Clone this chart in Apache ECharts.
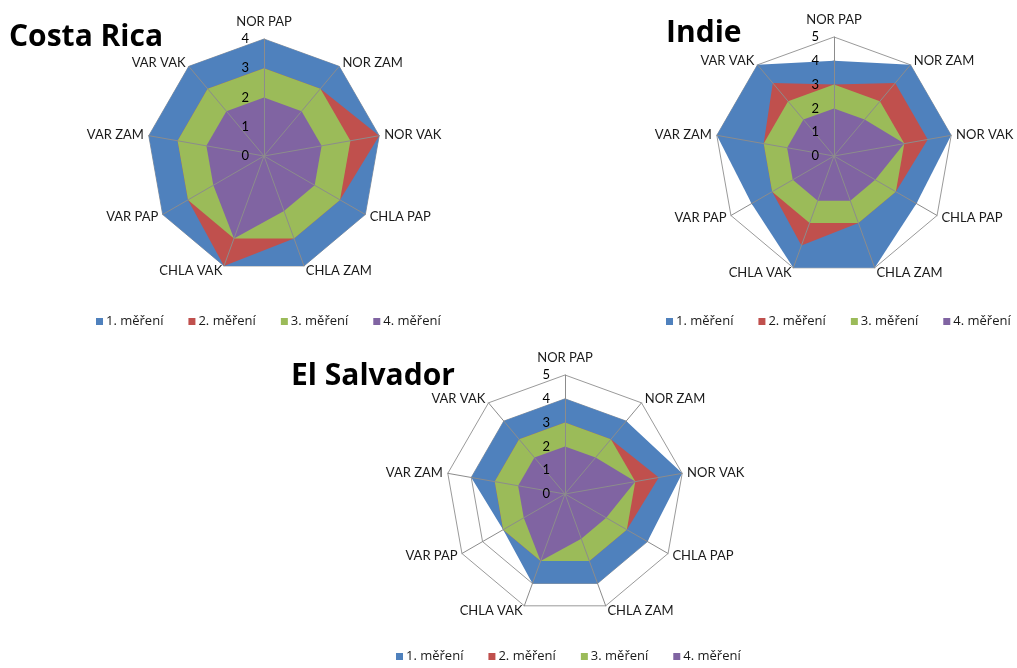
<!DOCTYPE html>
<html>
<head>
<meta charset="utf-8">
<script src="https://cdn.jsdelivr.net/npm/echarts@6/dist/echarts.min.js"></script>
<style>
  html, body { margin: 0; padding: 0; background: #fff; }
  #chart { width: 1017px; height: 668px; }
</style>
</head>
<body>
<div id="chart"></div>
<script>
// Radar axes, listed clockwise from the top
const axes = ['NOR PAP', 'NOR ZAM', 'NOR VAK', 'CHLA PAP', 'CHLA ZAM', 'CHLA VAK', 'VAR PAP', 'VAR ZAM', 'VAR VAK'];
const measurements = ['1. měření', '2. měření', '3. měření', '4. měření'];

// Costa Rica
const costaRica1 = [4, 4, 4, 4, 4, 4, 4, 4, 4];
const costaRica2 = [3, 3, 4, 3, 3, 4, 3, 3, 3];
const costaRica3 = [3, 3, 3, 3, 3, 3, 3, 3, 3];
const costaRica4 = [2, 2, 2, 2, 2, 3, 2, 2, 2];

// Indie
const indie1 = [4, 5, 5, 4, 5, 5, 4, 5, 5];
const indie2 = [3, 4, 4, 3, 3, 4, 3, 3, 4];
const indie3 = [3, 3, 3, 3, 3, 3, 3, 3, 3];
const indie4 = [2, 2, 3, 2, 2, 2, 2, 2, 2];

// El Salvador
const salvador1 = [4, 4, 5, 4, 4, 4, 3, 4, 4];
const salvador2 = [3, 3, 4, 3, 3, 3, 3, 3, 3];
const salvador3 = [3, 3, 3, 3, 3, 3, 3, 3, 3];
const salvador4 = [2, 2, 3, 2, 2, 3, 2, 2, 2];

const axisMax = { costaRica: 4, indie: 5, salvador: 5 };

const colors = ['#4F81BD', '#C0504D', '#9BBB59', '#8064A2'];
const FONT = 'Lato, "Open Sans", sans-serif';
const TITLE_FONT = '"Open Sans", Lato, sans-serif';

// ECharts lays radar indicators out counter-clockwise; reorder so the axes run clockwise.
const order = [0].concat(axes.map(function (_, i) { return i; }).slice(1).reverse());
function clockwise(arr) { return order.map(function (i) { return arr[i]; }); }

const panels = [
  { title: 'Costa Rica', max: axisMax.costaRica, sets: [costaRica1, costaRica2, costaRica3, costaRica4],
    center: [264, 156], radius: 117, titlePos: { left: 9, top: 22 }, legendPos: { left: 96, top: 315 } },
  { title: 'Indie', max: axisMax.indie, sets: [indie1, indie2, indie3, indie4],
    center: [834, 156], radius: 119, titlePos: { left: 666, top: 18 }, legendPos: { left: 666, top: 315 } },
  { title: 'El Salvador', max: axisMax.salvador, sets: [salvador1, salvador2, salvador3, salvador4],
    center: [565, 494], radius: 119, titlePos: { left: 291, top: 361 }, legendPos: { left: 396, top: 650 } }
];

const option = {
  animation: false,
  backgroundColor: '#fff',
  title: [],
  legend: [],
  radar: [],
  series: []
};

panels.forEach(function (p, pi) {
  option.title.push({
    text: p.title, left: p.titlePos.left, top: p.titlePos.top, padding: 0,
    textStyle: { fontFamily: TITLE_FONT, fontWeight: 'bold', fontSize: 30, color: '#000' }
  });

  option.legend.push({
    left: p.legendPos.left, top: p.legendPos.top, width: 400, padding: 0,
    icon: 'rect', itemWidth: 7, itemHeight: 7, itemGap: 25,
    data: measurements,
    selectedMode: false,
    textStyle: { fontFamily: TITLE_FONT, fontSize: 13, color: '#1a1a1a', padding: [0, 0, 0, -2] }
  });

  const names = clockwise(axes);

  // background radar: concentric grid and axis names
  option.radar.push({
    center: p.center, radius: p.radius, startAngle: 90, shape: 'polygon',
    splitNumber: p.max, z: 0,
    indicator: names.map(function (a, i) {
      return { name: a, min: 0, max: p.max, nameGap: i === 0 ? 11 : 5 };
    }),
    axisName: { color: '#1a1a1a', fontFamily: FONT, fontSize: 13 },
    axisLine: { show: false },
    axisTick: { show: false },
    axisLabel: { show: false },
    splitArea: { show: false },
    splitLine: { lineStyle: { color: '#9a9a9a', width: 1 } }
  });

  // overlay radar: spokes and value labels drawn above the filled areas
  option.radar.push({
    center: p.center, radius: p.radius, startAngle: 90, shape: 'polygon',
    splitNumber: p.max, z: 5,
    indicator: names.map(function (a, i) {
      const ind = { name: a, min: 0, max: p.max };
      if (i === 0) ind.axisLabel = { show: true };
      return ind;
    }),
    axisName: { show: false },
    axisLine: { show: true, lineStyle: { color: '#8c8c8c', width: 1 } },
    axisTick: { show: false },
    axisLabel: { show: false, color: '#000', fontFamily: FONT, fontSize: 13, margin: 15 },
    splitArea: { show: false },
    splitLine: { show: false }
  });

  p.sets.forEach(function (vals, si) {
    option.series.push({
      type: 'radar',
      name: measurements[si],
      radarIndex: pi * 2,
      symbol: 'none',
      silent: true,
      z: 2,
      itemStyle: { color: colors[si] },
      lineStyle: { width: 0, color: colors[si] },
      areaStyle: { color: colors[si], opacity: 1 },
      data: [{ value: clockwise(vals), name: measurements[si] }]
    });
  });
});

const chart = echarts.init(document.getElementById('chart'), null, { renderer: 'canvas' });
chart.setOption(option);
</script>
</body>
</html>
